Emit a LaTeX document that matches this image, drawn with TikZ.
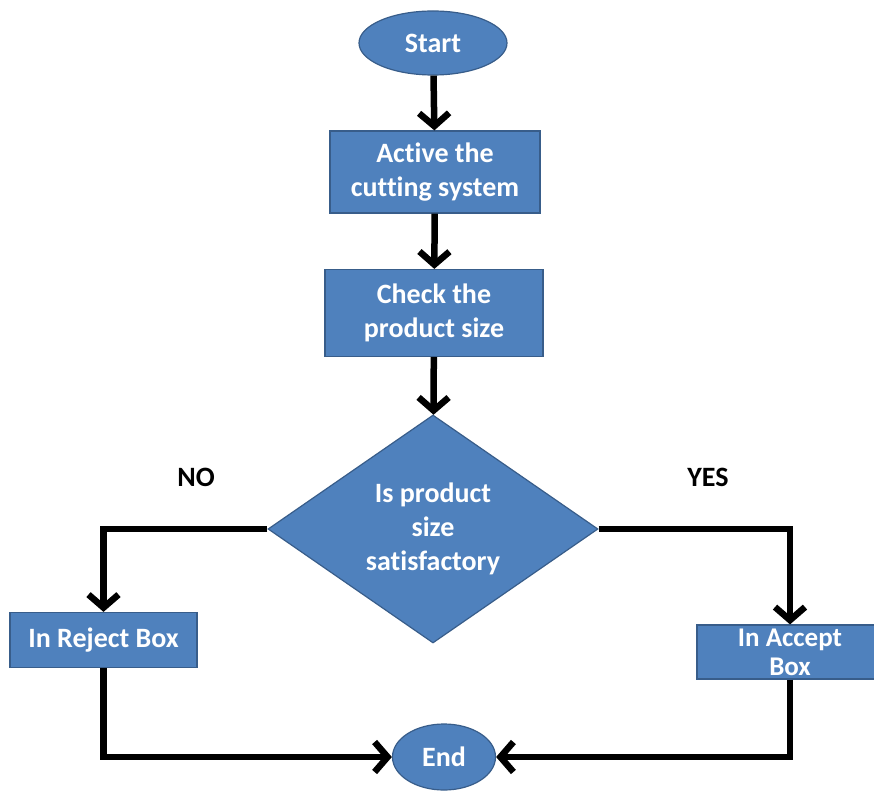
\documentclass[tikz,border=0pt]{standalone}
\usepackage{fontspec}
\setmainfont{Carlito}[Ligatures=NoCommon]
\usetikzlibrary{shapes.geometric,arrows.meta}
\definecolor{boxblue}{RGB}{79,129,189}
\definecolor{edgeblue}{RGB}{56,93,138}
\begin{document}
\begin{tikzpicture}[
		x=1pt, y=-1pt,
		>={Straight Barb[length=13pt,width=30pt]},
		every node/.style={font=\fontsize{28}{34}\selectfont\bfseries},
		shape fill/.style={fill=boxblue, draw=edgeblue, line width=1.2pt, text=white, align=center},
		stepbox/.style={shape fill, rectangle, inner sep=0pt},
		flow/.style={->, line width=6.5pt, black}
		]
		
		\useasboundingbox (0,0) rectangle (874,791);
		\clip (0,0) rectangle (874,791);
		
		\node[shape fill, ellipse, minimum width=148, minimum height=64] (start) at (433,43) {Start};
		\node[stepbox, minimum width=210, minimum height=82] (act) at (435,172) {Active the\\cutting system};
		\node[stepbox, minimum width=218, minimum height=87] (chk) at (434,313) {Check the\\product size};
		\node[shape fill, diamond, inner sep=0pt, minimum width=330, minimum height=228] (dec) at (433,529) {Is product\\size\\satisfactory};
		\node[stepbox, minimum width=187, minimum height=55] (rej) at (103.5,640) {In Reject Box};
		\node[stepbox, minimum width=186, minimum height=54, font=\fontsize{27}{29}\selectfont\bfseries] (acc) at (790,652) {In Accept\\Box};
		\node[shape fill, ellipse, inner sep=0pt, minimum width=103, minimum height=66] (end) at (444,757) {End};
		
		\node (no) at (196,477) {NO};
		\node (yes) at (708,477) {YES};
		
		\draw[flow] (start) -- (act);
		\draw[flow] (act) -- (chk);
		\draw[flow] (chk) -- (dec);
		\draw[flow] (dec.west) -| (rej.north);
		\draw[flow] (dec.east) -| (acc.north);
		\draw[flow] (rej.south) |- (end.west);
		\draw[flow] (acc.south) |- (end.east);
		
	\end{tikzpicture}
\end{document}
